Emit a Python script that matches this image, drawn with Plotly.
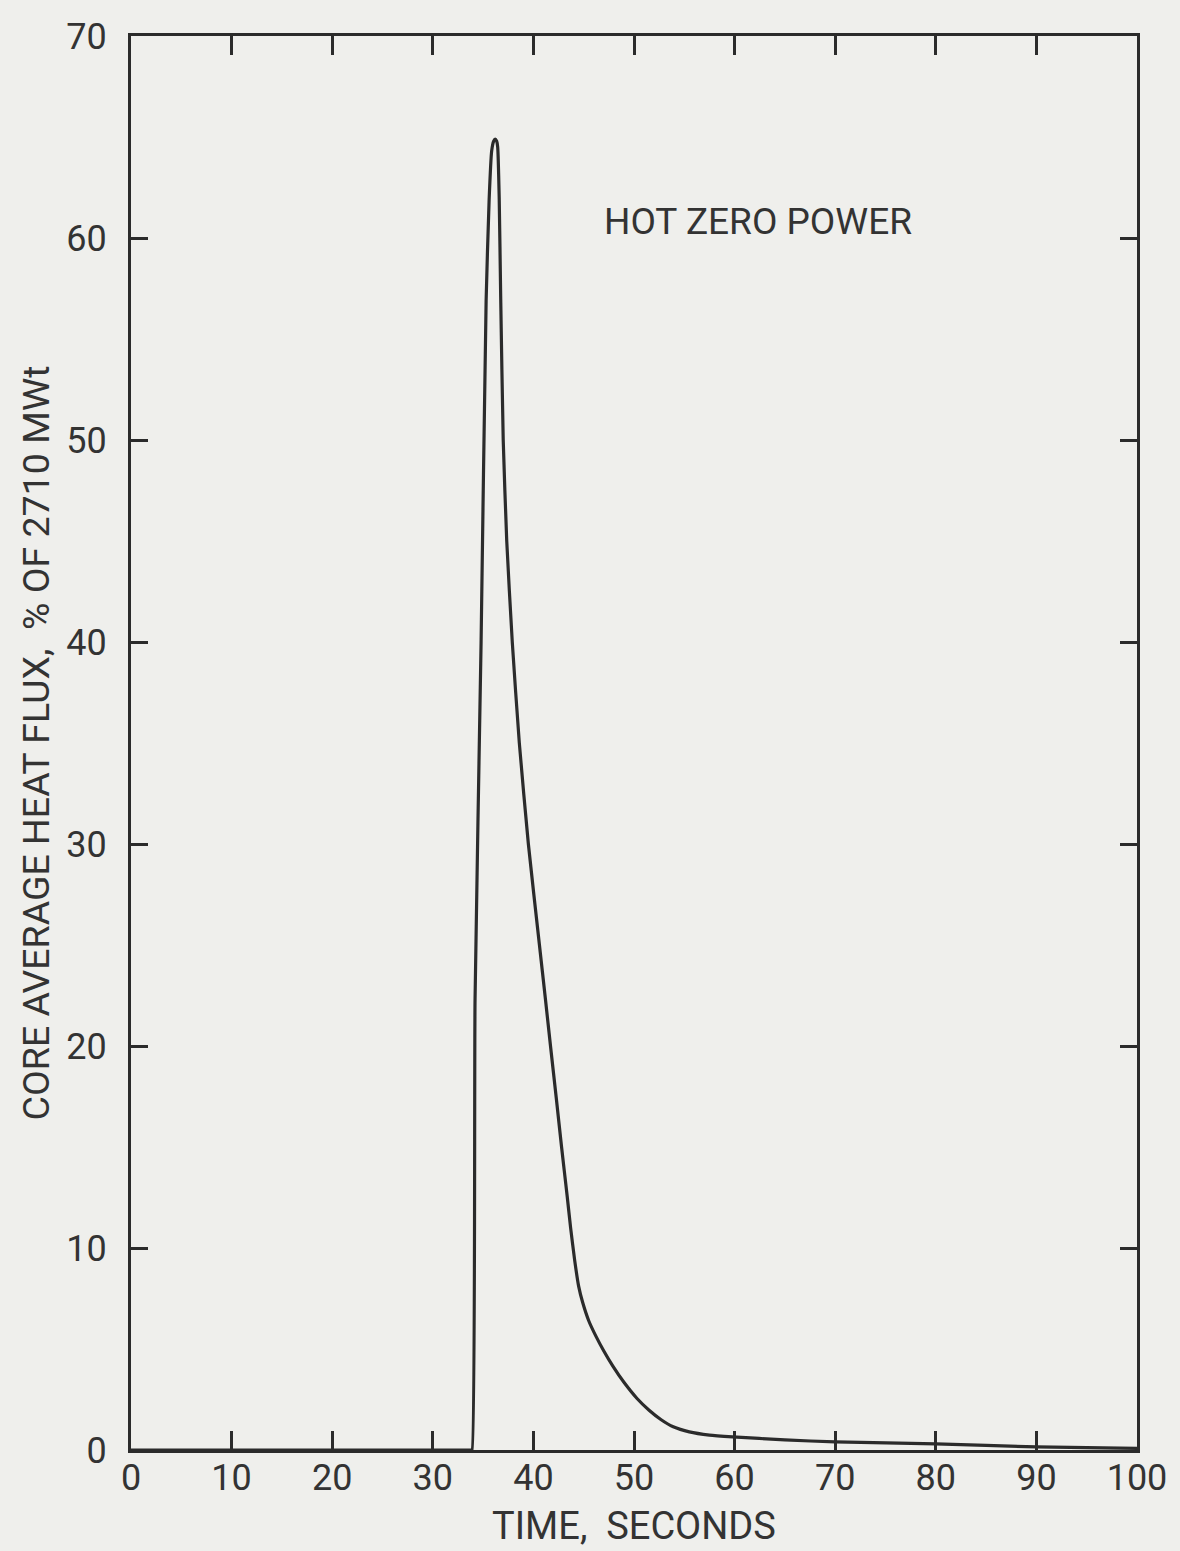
import plotly.graph_objects as go

# Time (s) and core average heat flux (% of 2710 MWt)
time_s = [0, 10, 20, 30, 33.8, 33.9, 34.2, 34.8, 35.3, 35.6, 35.85, 36.05, 36.2, 36.35,
          36.45, 36.6, 36.75, 37.0, 37.35, 37.9, 38.6, 39.5, 40.6, 41.2, 41.7, 42.3,
          42.8, 43.35, 43.7, 44.1, 44.5, 44.9, 45.5, 46.2, 47.0, 47.9, 49.0, 50.3, 51.5,
          52.7, 53.9, 55.5, 57.5, 59.8, 65, 70, 80, 90, 100]
heat_flux = [0, 0, 0, 0, 0, 0, 22.3, 40.0, 56.9, 61.9, 64.3, 64.8, 64.9, 64.8,
             64.5, 62.0, 57.0, 50.0, 45.0, 40.0, 35.0, 30.0, 25.0, 22.3, 20.0, 17.3,
             15.0, 12.6, 11.0, 9.4, 8.1, 7.3, 6.4, 5.65, 4.9, 4.15, 3.35, 2.55, 1.97,
             1.5, 1.15, 0.9, 0.74, 0.65, 0.5, 0.4, 0.3, 0.15, 0.08]

x_ticks = [0, 10, 20, 30, 40, 50, 60, 70, 80, 90, 100]
y_ticks = [0, 10, 20, 30, 40, 50, 60, 70]

FONT = "Roboto, Liberation Sans Narrow, sans-serif"
INK = "#2b2b2b"
TXT = "#333333"
BG = "#efefec"

fig = go.Figure()
fig.add_trace(go.Scatter(
    x=time_s, y=heat_flux, mode="lines",
    line=dict(color=INK, width=3.2, shape="spline", smoothing=0.5),
    showlegend=False, hoverinfo="skip",
))

fig.add_annotation(
    x=62.3, y=60.8, xref="x", yref="y",
    text="HOT ZERO POWER", showarrow=False,
    font=dict(family=FONT, size=37, color=TXT),
    xanchor="center", yanchor="middle",
)

axis_common = dict(
    showgrid=False, zeroline=False,
    showline=True, linecolor=INK, linewidth=3,
    mirror="ticks", ticks="inside", tickwidth=2.5, tickcolor=INK,
    tickfont=dict(family=FONT, size=36, color=TXT),
)

fig.update_xaxes(
    range=[0, 100], tickvals=x_ticks, ticktext=[str(v) for v in x_ticks],
    ticklen=19, ticklabelstandoff=-6,
    title=dict(text="TIME,  SECONDS", font=dict(family=FONT, size=38, color=TXT), standoff=15),
    **axis_common,
)
fig.update_yaxes(
    range=[0, 70], tickvals=y_ticks, ticktext=[str(v) for v in y_ticks],
    ticklen=17, ticklabelstandoff=14,
    title=dict(text="CORE AVERAGE HEAT FLUX,  % OF 2710 MWt",
               font=dict(family=FONT, size=37.5, color=TXT), standoff=6),
    **axis_common,
)

fig.update_layout(
    width=1180, height=1551,
    margin=dict(l=131, r=43, t=36, b=101, autoexpand=False),
    paper_bgcolor=BG, plot_bgcolor=BG,
    showlegend=False,
)

fig.write_html("out.html")
